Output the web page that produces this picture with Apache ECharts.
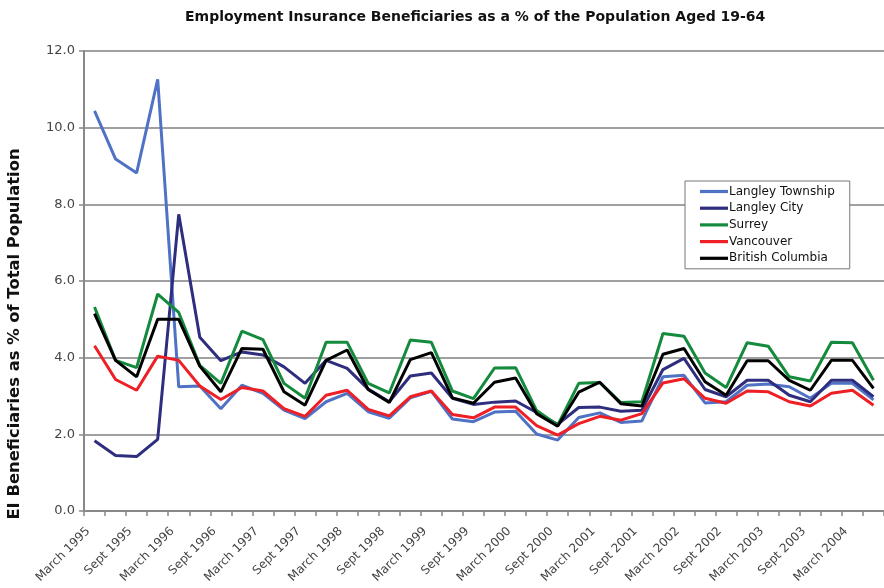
<!DOCTYPE html>
<html>
<head>
<meta charset="utf-8">
<script src="https://cdn.jsdelivr.net/npm/echarts@6/dist/echarts.min.js"></script>
<style>html,body{margin:0;padding:0;background:#fff;}#c{width:884px;height:588px;}</style>
</head>
<body>
<div id="c"></div>
<script>
const categories = [];
const years = [1995,1996,1997,1998,1999,2000,2001,2002,2003,2004];
const quarters = ['March','June','Sept','Dec'];
years.forEach(y => quarters.forEach(q => categories.push(q + ' ' + y)));
categories.length = 38;

const langleyTownship = [10.44, 9.18, 8.82, 11.26, 3.24, 3.26, 2.67, 3.28, 3.07, 2.63, 2.41, 2.85, 3.07, 2.59, 2.42, 2.95, 3.12, 2.40, 2.33, 2.58, 2.60, 2.01, 1.85, 2.44, 2.56, 2.31, 2.35, 3.50, 3.54, 2.82, 2.85, 3.28, 3.31, 3.24, 2.94, 3.33, 3.33, 2.90];
const langleyCity = [1.83, 1.45, 1.42, 1.87, 7.74, 4.53, 3.92, 4.15, 4.07, 3.76, 3.33, 3.93, 3.72, 3.18, 2.85, 3.52, 3.60, 2.94, 2.78, 2.84, 2.87, 2.57, 2.26, 2.70, 2.71, 2.60, 2.63, 3.69, 3.98, 3.17, 2.98, 3.41, 3.41, 3.02, 2.85, 3.41, 3.41, 2.98];
const surrey = [5.32, 3.93, 3.74, 5.66, 5.18, 3.80, 3.33, 4.69, 4.47, 3.33, 2.94, 4.40, 4.40, 3.33, 3.08, 4.46, 4.40, 3.13, 2.93, 3.73, 3.74, 2.62, 2.24, 3.33, 3.35, 2.83, 2.85, 4.63, 4.56, 3.60, 3.22, 4.39, 4.30, 3.50, 3.39, 4.40, 4.39, 3.41];
const vancouver = [4.31, 3.43, 3.15, 4.04, 3.93, 3.26, 2.91, 3.22, 3.13, 2.67, 2.47, 3.02, 3.15, 2.65, 2.48, 2.98, 3.13, 2.52, 2.43, 2.71, 2.71, 2.23, 1.98, 2.28, 2.47, 2.37, 2.54, 3.34, 3.45, 2.94, 2.81, 3.13, 3.11, 2.85, 2.74, 3.07, 3.15, 2.76];
const britishColumbia = [5.15, 3.93, 3.50, 5.00, 5.00, 3.78, 3.11, 4.24, 4.22, 3.11, 2.76, 3.93, 4.20, 3.17, 2.83, 3.95, 4.13, 2.95, 2.81, 3.36, 3.47, 2.54, 2.21, 3.10, 3.36, 2.80, 2.74, 4.09, 4.24, 3.37, 3.02, 3.92, 3.92, 3.41, 3.15, 3.93, 3.93, 3.20];

const seriesNames = ['Langley Township', 'Langley City', 'Surrey', 'Vancouver', 'British Columbia'];
const seriesData = [langleyTownship, langleyCity, surrey, vancouver, britishColumbia];
const seriesColors = ['#4f72c4', '#2e2d7e', '#148a3c', '#ee1f25', '#000000'];

const FONT = 'DejaVu Sans';
const chart = echarts.init(document.getElementById('c'));
chart.setOption({
  animation: false,
  backgroundColor: '#ffffff',
  title: {
    text: 'Employment Insurance Beneficiaries as a % of the Population Aged 19-64',
    left: 185,
    top: 10,
    padding: 0,
    textStyle: { fontFamily: FONT, fontWeight: 'bold', fontSize: 14, color: '#111' }
  },
  legend: {
    orient: 'vertical',
    left: 685,
    top: 181,
    padding: [3, 15, 3, 15],
    itemGap: 1.7,
    itemWidth: 28,
    itemHeight: 15,
    icon: 'path://M0,0 L28,0 L28,3.2 L0,3.2 Z',
    symbolKeepAspect: true,
    borderColor: '#777',
    borderWidth: 1,
    backgroundColor: '#fff',
    textStyle: { fontFamily: FONT, fontSize: 12, color: '#111', lineHeight: 15, padding: [0, 0, 0, -4] },
    data: seriesNames
  },
  grid: { left: 84, top: 51, width: 810.7, height: 460 },
  xAxis: {
    type: 'category',
    data: categories,
    boundaryGap: true,
    axisLine: { lineStyle: { color: '#888', width: 2 } },
    axisTick: { show: true, interval: 0, length: 5, lineStyle: { color: '#888', width: 1.5 } },
    axisLabel: { interval: 1, rotate: 45, margin: 12, padding: [0, 9, 0, 0], fontFamily: FONT, fontSize: 12, color: '#444' },
    splitLine: { show: false }
  },
  yAxis: {
    type: 'value',
    min: 0,
    max: 12,
    interval: 2,
    axisLine: { show: true, lineStyle: { color: '#888', width: 2 } },
    axisTick: { show: true, length: 5, lineStyle: { color: '#888', width: 1.5 } },
    axisLabel: { margin: 9, fontFamily: FONT, fontSize: 13, color: '#444', formatter: v => v.toFixed(1) },
    splitLine: { show: true, lineStyle: { color: '#a0a0a0', width: 2 } }
  },
  graphic: [{
    type: 'text',
    x: 15,
    y: 334,
    rotation: Math.PI / 2,
    style: {
      text: 'EI Beneficiaries as % of Total Population',
      font: 'bold 16.4px "DejaVu Sans"',
      fill: '#111',
      textAlign: 'center',
      textVerticalAlign: 'middle'
    }
  }],
  series: seriesNames.map((n, i) => ({
    name: n,
    type: 'line',
    data: seriesData[i],
    symbol: 'none',
    showSymbol: false,
    color: seriesColors[i],
    lineStyle: { width: 3, color: seriesColors[i] },
    itemStyle: { color: seriesColors[i] }
  }))
});
</script>
</body>
</html>
